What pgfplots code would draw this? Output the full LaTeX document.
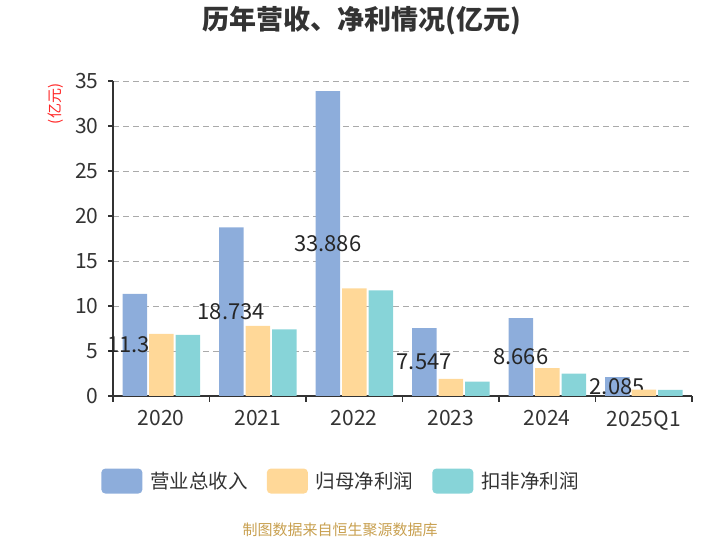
\documentclass[border=0pt]{standalone}
\usepackage{pgfplots}
\pgfplotsset{compat=1.18}
\usepackage{fontspec}
\setmainfont{Noto Sans CJK SC}
\definecolor{cblue}{RGB}{141,173,219}
\definecolor{cyellow}{RGB}{255,216,152}
\definecolor{cteal}{RGB}{135,212,216}
\definecolor{cgold}{RGB}{200,160,80}
\definecolor{ctext}{RGB}{51,51,51}
\definecolor{cgrid}{RGB}{170,170,170}
\pgfplotsset{
  roundleg/.style={legend image code/.code={\fill[##1, rounded corners=4pt] (0pt,-12.5pt) rectangle (41pt,12.5pt);}},
  common/.style={
    at={(113pt,144pt)}, anchor=south west,
    scale only axis, width=579pt, height=315pt,
    ybar, bar width=24.5pt,
    xmin=-0.5, xmax=5.5, ymin=0, ymax=35,
    clip=false,
  },
}
\begin{document}
\begin{tikzpicture}
\useasboundingbox (0pt,0pt) rectangle (720pt,540pt);
\node[font=\fontsize{27}{31}\selectfont\bfseries, text=ctext] at (362pt,519pt) {历年营收、净利情况(亿元)};
\node[rotate=90, text=red!85!white, font=\fontsize{15}{18}\selectfont] at (56pt,436pt) {(亿元)};
\node[text=cgold, font=\fontsize{15}{18}\selectfont] at (340pt,10pt) {制图数据来自恒生聚源数据库};
\begin{axis}[
  common,
  xtick={0,...,5},
  xticklabels={2020,2021,2022,2023,2024,2025Q1},
  minor xtick={-0.5,0.5,...,5.5},
  ytick={0,5,...,35},
  axis x line*=bottom, axis y line*=left,
  axis line style={ctext, line width=1.2pt, -},
  tick align=outside,
  major tick length=5pt,
  minor tick length=6pt,
  major x tick style={draw=none},
  minor x tick style={ctext, line width=1.2pt},
  major y tick style={ctext, line width=1.2pt},
  ymajorgrids,
  major grid style={cgrid, line width=0.9pt, dash pattern=on 6pt off 4pt},
  /pgf/number format/assume math mode=true,
  ticklabel style={font=\fontsize{21}{24}\selectfont, text=ctext},
  xticklabel style={yshift=-6pt},
  yticklabel style={xshift=-6pt},
]
\addplot[fill=cblue, draw=none, bar shift=-26.5pt,
  point meta=explicit symbolic,
  nodes near coords,
  visualization depends on={rawy \as \rawy},
  every node near coord/.append style={anchor=center, yshift={-4.5pt*\rawy}, font=\fontsize{22}{25}\selectfont, text=black!85, inner sep=0pt}
] coordinates {
  (0,11.35)[11.35] (1,18.734)[18.734] (2,33.886)[33.886]
  (3,7.547)[7.547] (4,8.666)[8.666] (5,2.085)[2.085]
};
\end{axis}
\begin{axis}[
  common,
  hide axis,
  legend columns=3,
  legend style={at={(0.394,-0.27)}, anchor=center, draw=none, fill=none,
    font=\fontsize{19.5}{22}\selectfont, text=ctext,
    /tikz/every odd column/.append style={column sep=6pt},
    /tikz/every even column/.append style={column sep=17pt}},
]
\addlegendimage{fill=cblue, draw=none, roundleg}
\addlegendentry{营业总收入}
\addplot[fill=cyellow, draw=none, roundleg, bar shift=0pt] coordinates {
  (0,6.89) (1,7.78) (2,11.97) (3,1.89) (4,3.11) (5,0.70)
};
\addlegendentry{归母净利润}
\addplot[fill=cteal, draw=none, roundleg, bar shift=26.5pt] coordinates {
  (0,6.78) (1,7.41) (2,11.74) (3,1.59) (4,2.48) (5,0.67)
};
\addlegendentry{扣非净利润}
\end{axis}
\end{tikzpicture}
\end{document}
